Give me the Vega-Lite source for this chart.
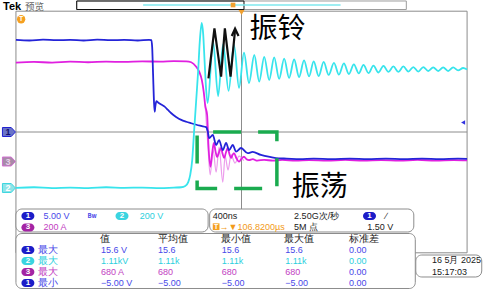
{
"$schema":"https://vega.github.io/schema/vega-lite/v6.json",
"width":487,"height":294,"autosize":{"type":"fit","contains":"padding"},"padding":0,
"background":"white",
"config":{"view":{"stroke":null},"text":{"font":"Noto Sans CJK SC"}},
"datasets":{
"gv":[{"x":-4},{"x":-3},{"x":-2},{"x":-1},{"x":1},{"x":2},{"x":3},{"x":4}],
"gh":[{"y":-3},{"y":-2},{"y":-1},{"y":1},{"y":2},{"y":3}],
"xt":[{"x":-4.8},{"x":-4.6},{"x":-4.4},{"x":-4.2},{"x":-4},{"x":-3.8},{"x":-3.6},{"x":-3.4},{"x":-3.2},{"x":-3},{"x":-2.8},{"x":-2.6},{"x":-2.4},{"x":-2.2},{"x":-2},{"x":-1.8},{"x":-1.6},{"x":-1.4},{"x":-1.2},{"x":-1},{"x":-0.8},{"x":-0.6},{"x":-0.4},{"x":-0.2},{"x":0},{"x":0.2},{"x":0.4},{"x":0.6},{"x":0.8},{"x":1},{"x":1.2},{"x":1.4},{"x":1.6},{"x":1.8},{"x":2},{"x":2.2},{"x":2.4},{"x":2.6},{"x":2.8},{"x":3},{"x":3.2},{"x":3.4},{"x":3.6},{"x":3.8},{"x":4},{"x":4.2},{"x":4.4},{"x":4.6},{"x":4.8}],
"yt":[{"y":-3.8},{"y":-3.6},{"y":-3.4},{"y":-3.2},{"y":-3},{"y":-2.8},{"y":-2.6},{"y":-2.4},{"y":-2.2},{"y":-2},{"y":-1.8},{"y":-1.6},{"y":-1.4},{"y":-1.2},{"y":-1},{"y":-0.8},{"y":-0.6},{"y":-0.4},{"y":-0.2},{"y":0},{"y":0.2},{"y":0.4},{"y":0.6},{"y":0.8},{"y":1},{"y":1.2},{"y":1.4},{"y":1.6},{"y":1.8},{"y":2},{"y":2.2},{"y":2.4},{"y":2.6},{"y":2.8},{"y":3},{"y":3.2},{"y":3.4},{"y":3.6},{"y":3.8}],
"cl":[{"x":0,"x2":0,"y":4,"y2":-4},{"x":-5,"x2":5,"y":0,"y2":0}],
"bd":[{"x":-5,"x2":5,"y":4,"y2":-4}],
"bar":[{"x":-3.653,"x2":3.653,"y":4.338,"y2":4.056}],
"barb":[{"x":-3.653,"x2":0.055,"y":4.338,"y2":4.056}],
"barc":[{"x":-2.181,"x2":2.196,"y":4.205}],
"trg":[{"x":0,"y":3.957}],
"bm":[{"x":-0.188,"y":4.205}],
"ch1":[{"x":-5.0,"y":3.05},{"x":-4.7,"y":3.03},{"x":-4.4,"y":3.06},{"x":-4.1,"y":3.04},{"x":-3.8,"y":3.05},{"x":-3.5,"y":3.03},{"x":-3.2,"y":3.06},{"x":-2.9,"y":3.04},{"x":-2.6,"y":3.05},{"x":-2.3,"y":3.03},{"x":-2.05,"y":3.05},{"x":-1.998,"y":3.04},{"x":-1.98,"y":2.8},{"x":-1.96,"y":1.9},{"x":-1.94,"y":1.0},{"x":-1.925,"y":0.67},{"x":-1.91,"y":0.85},{"x":-1.887,"y":1.02},{"x":-1.85,"y":0.98},{"x":-1.78,"y":0.91},{"x":-1.704,"y":0.84},{"x":-1.63,"y":0.73},{"x":-1.556,"y":0.62},{"x":-1.45,"y":0.5},{"x":-1.336,"y":0.4},{"x":-1.225,"y":0.34},{"x":-1.115,"y":0.29},{"x":-1.0,"y":0.24},{"x":-0.894,"y":0.2},{"x":-0.784,"y":0.16},{"x":-0.75,"y":0.03},{"x":-0.717,"y":-0.2},{"x":-0.636,"y":-0.1},{"x":-0.563,"y":-0.43},{"x":-0.497,"y":-0.27},{"x":-0.415,"y":-0.6},{"x":-0.342,"y":-0.36},{"x":-0.276,"y":-0.6},{"x":-0.194,"y":-0.43},{"x":-0.121,"y":-0.65},{"x":-0.011,"y":-0.53},{"x":0.137,"y":-0.7},{"x":0.247,"y":-0.66},{"x":0.43,"y":-0.76},{"x":0.651,"y":-0.83},{"x":0.828,"y":-0.87},{"x":1.0,"y":-0.88},{"x":1.3,"y":-0.9},{"x":1.6,"y":-0.88},{"x":2.0,"y":-0.9},{"x":2.4,"y":-0.88},{"x":2.8,"y":-0.9},{"x":3.2,"y":-0.88},{"x":3.6,"y":-0.9},{"x":4.0,"y":-0.88},{"x":4.4,"y":-0.9},{"x":4.8,"y":-0.88},{"x":5.0,"y":-0.89}],
"ch3":[{"x":-5.0,"y":2.3},{"x":-4.6,"y":2.32},{"x":-4.2,"y":2.3},{"x":-3.8,"y":2.33},{"x":-3.4,"y":2.31},{"x":-3.0,"y":2.33},{"x":-2.6,"y":2.32},{"x":-2.2,"y":2.34},{"x":-1.8,"y":2.33},{"x":-1.5,"y":2.35},{"x":-1.225,"y":2.34},{"x":-1.115,"y":2.31},{"x":-1.004,"y":2.16},{"x":-0.938,"y":2.0},{"x":-0.879,"y":1.72},{"x":-0.834,"y":1.29},{"x":-0.806,"y":0.89},{"x":-0.762,"y":0.56},{"x":-0.733,"y":-0.43},{"x":-0.689,"y":-1.15},{"x":-0.65,"y":-0.7},{"x":-0.614,"y":-0.36},{"x":-0.575,"y":-0.65},{"x":-0.541,"y":-0.83},{"x":-0.5,"y":-0.68},{"x":-0.453,"y":-0.53},{"x":-0.42,"y":-0.72},{"x":-0.386,"y":-0.86},{"x":-0.345,"y":-0.68},{"x":-0.305,"y":-0.53},{"x":-0.27,"y":-0.72},{"x":-0.232,"y":-0.86},{"x":-0.2,"y":-0.76},{"x":-0.166,"y":-0.7},{"x":-0.11,"y":-0.88},{"x":-0.055,"y":-0.98},{"x":0.0,"y":-0.88},{"x":0.055,"y":-0.82},{"x":0.11,"y":-0.9},{"x":0.166,"y":-0.93},{"x":0.25,"y":-0.9},{"x":0.35,"y":-0.95},{"x":0.5,"y":-0.92},{"x":0.7,"y":-0.95},{"x":0.9,"y":-0.92},{"x":1.2,"y":-0.95},{"x":1.5,"y":-0.93},{"x":1.9,"y":-0.95},{"x":2.3,"y":-0.92},{"x":2.7,"y":-0.95},{"x":3.1,"y":-0.93},{"x":3.5,"y":-0.95},{"x":3.9,"y":-0.92},{"x":4.3,"y":-0.95},{"x":4.7,"y":-0.93},{"x":5.0,"y":-0.94}],
"ch3p":[{"x":-0.806,"y":0.89},{"x":-0.746,"y":-0.43},{"x":-0.695,"y":-1.42},{"x":-0.629,"y":-0.6},{"x":-0.563,"y":-1.33},{"x":-0.497,"y":-0.5},{"x":-0.415,"y":-1.66},{"x":-0.364,"y":-0.8},{"x":-0.298,"y":-1.26},{"x":-0.232,"y":-0.76},{"x":-0.144,"y":-1.03},{"x":-0.055,"y":-0.8},{"x":0.05,"y":-0.95}],
"ch2":[{"x":-5.0,"y":-1.85},{"x":-4.6,"y":-1.83},{"x":-4.2,"y":-1.86},{"x":-3.8,"y":-1.84},{"x":-3.4,"y":-1.86},{"x":-3.0,"y":-1.83},{"x":-2.6,"y":-1.85},{"x":-2.2,"y":-1.84},{"x":-1.8,"y":-1.86},{"x":-1.5,"y":-1.84},{"x":-1.336,"y":-1.83},{"x":-1.247,"y":-1.79},{"x":-1.181,"y":-1.66},{"x":-1.137,"y":-1.42},{"x":-1.093,"y":-0.93},{"x":-1.049,"y":0.07},{"x":-1.004,"y":1.06},{"x":-0.96,"y":2.05},{"x":-0.927,"y":2.95},{"x":-0.883,"y":3.61},{"x":-0.85,"y":3.25},{"x":-0.817,"y":2.3},{"x":-0.784,"y":1.4},{"x":-0.751,"y":0.96},{"x":-0.629,"y":2.98},{"x":-0.519,"y":1.19},{"x":-0.408,"y":2.91},{"x":-0.287,"y":1.36},{"x":-0.166,"y":2.88},{"x":-0.055,"y":1.46},{"x":0.055,"y":2.63},{"x":0.166,"y":1.62},{"x":0.283,"y":2.55},{"x":0.393,"y":1.67},{"x":0.503,"y":2.49},{"x":0.614,"y":1.72},{"x":0.724,"y":2.47},{"x":0.834,"y":1.76},{"x":0.945,"y":2.43},{"x":1.055,"y":1.79},{"x":1.166,"y":2.4},{"x":1.276,"y":1.82},{"x":1.386,"y":2.37},{"x":1.497,"y":1.84},{"x":1.6,"y":2.34},{"x":1.711,"y":1.85},{"x":1.821,"y":2.32},{"x":1.932,"y":1.89},{"x":2.049,"y":2.29},{"x":2.159,"y":1.9},{"x":2.269,"y":2.27},{"x":2.38,"y":1.92},{"x":2.49,"y":2.24},{"x":2.6,"y":1.94},{"x":2.704,"y":2.22},{"x":2.815,"y":1.95},{"x":2.925,"y":2.2},{"x":3.035,"y":1.97},{"x":3.146,"y":2.19},{"x":3.256,"y":1.99},{"x":3.366,"y":2.17},{"x":3.477,"y":1.99},{"x":3.587,"y":2.17},{"x":3.698,"y":2.0},{"x":3.808,"y":2.15},{"x":3.918,"y":2.0},{"x":4.029,"y":2.15},{"x":4.139,"y":2.02},{"x":4.249,"y":2.14},{"x":4.36,"y":2.02},{"x":4.47,"y":2.14},{"x":4.58,"y":2.02},{"x":4.691,"y":2.14},{"x":4.801,"y":2.04},{"x":4.912,"y":2.12},{"x":5.0,"y":2.07}],
"zz":[{"x":-0.733,"y":1.778,"s":"a","o":1},{"x":-0.6,"y":3.434,"s":"a","o":2},{"x":-0.453,"y":1.831,"s":"a","o":3},{"x":-0.369,"y":3.434,"s":"a","o":4},{"x":-0.243,"y":1.831,"s":"a","o":5},{"x":-0.143,"y":3.38,"s":"a","o":6},{"x":-0.216,"y":3.179,"s":"b","o":1},{"x":-0.143,"y":3.42,"s":"b","o":2},{"x":-0.066,"y":3.179,"s":"b","o":3}],
"box":[{"x":-0.984,"x2":0.784,"y":0,"y2":-1.871}],
"lbl":[{"x":0.795,"y":3.361,"t":"振铃"},{"x":1.733,"y":-1.864,"t":"振荡"}],
"mk":[{"x":-5.155,"y":0,"c":"1","t":"1"},{"x":-5.155,"y":-0.977,"c":"3","t":"3"},{"x":-5.155,"y":-1.854,"c":"2","t":"2"}],
"ot1":[{"x":-4.885,"y":3.732}],
"ot2":[{"x":-0.563,"y":-3.136}],
"otT":[{"x":-4.885,"y":3.732},{"x":-0.563,"y":-3.136}],
"arr":[{"x":4.912,"y":0.315}],
"tek":[{"x":-5.287,"y":4.139,"t":"Tek"}],
"pv":[{"x":-4.801,"y":4.139,"t":"预览"}],
"pn":[{"x":-5.0,"x2":-0.74,"y":-2.55,"y2":-3.311},{"x":-0.706,"x2":3.819,"y":-2.55,"y2":-3.311},{"x":-5.0,"x2":3.852,"y":-3.361,"y2":-5.182},{"x":3.863,"x2":5.325,"y":-4.073,"y2":-4.801}],
"ov":[{"x":-4.735,"y":-2.781,"c":"1","t":"1"},{"x":-2.649,"y":-2.781,"c":"2","t":"2"},{"x":-4.735,"y":-3.162,"c":"3","t":"3"},{"x":2.837,"y":-2.781,"c":"1","t":"1"},{"x":-4.735,"y":-3.907,"c":"1","t":"1"},{"x":-4.735,"y":-4.272,"c":"2","t":"2"},{"x":-4.735,"y":-4.636,"c":"3","t":"3"},{"x":-4.735,"y":-5.0,"c":"1","t":"1"}],
"pt":[{"x":-4.389,"y":-2.781,"t":"5.00 V","c":"1"},{"x":-2.256,"y":-2.781,"t":"200 V","c":"2"},{"x":-4.389,"y":-3.162,"t":"200 A","c":"3"},{"x":-0.636,"y":-2.781,"t":"400ns","c":"k"},{"x":-0.486,"y":-3.136,"t":"→▼106.8200µs","c":"o"},{"x":1.166,"y":-2.781,"t":"2.50G次/秒","c":"k"},{"x":1.166,"y":-3.136,"t":"5M 点","c":"k"},{"x":3.19,"y":-2.781,"t":"∕","c":"k"},{"x":2.786,"y":-3.136,"t":"1.50 V","c":"k"},
{"x":-3.117,"y":-3.907,"t":"15.6 V","c":"1"},{"x":-1.85,"y":-3.907,"t":"15.6","c":"1"},{"x":-0.437,"y":-3.907,"t":"15.6","c":"1"},{"x":0.967,"y":-3.907,"t":"15.6","c":"1"},{"x":2.38,"y":-3.907,"t":"0.00","c":"1"},
{"x":-3.117,"y":-4.272,"t":"1.11kV","c":"2"},{"x":-1.85,"y":-4.272,"t":"1.11k","c":"2"},{"x":-0.437,"y":-4.272,"t":"1.11k","c":"2"},{"x":0.967,"y":-4.272,"t":"1.11k","c":"2"},{"x":2.38,"y":-4.272,"t":"0.00","c":"2"},
{"x":-3.117,"y":-4.636,"t":"680 A","c":"3"},{"x":-1.85,"y":-4.636,"t":"680","c":"3"},{"x":-0.437,"y":-4.636,"t":"680","c":"3"},{"x":0.967,"y":-4.636,"t":"680","c":"3"},{"x":2.38,"y":-4.636,"t":"0.00","c":"1"},
{"x":-3.117,"y":-5.0,"t":"−5.00 V","c":"1"},{"x":-1.85,"y":-5.0,"t":"−5.00","c":"1"},{"x":-0.437,"y":-5.0,"t":"−5.00","c":"1"},{"x":0.967,"y":-5.0,"t":"−5.00","c":"1"},{"x":2.38,"y":-5.0,"t":"0.00","c":"1"},
{"x":4.221,"y":-4.238,"t":"16 5月 2025","c":"k"},{"x":4.221,"y":-4.626,"t":"15:17:03","c":"k"}],
"pc":[{"x":-3.146,"y":-3.543,"t":"值","c":"k"},{"x":-1.843,"y":-3.543,"t":"平均值","c":"k"},{"x":-0.453,"y":-3.543,"t":"最小值","c":"k"},{"x":0.938,"y":-3.543,"t":"最大值","c":"k"},{"x":2.373,"y":-3.543,"t":"标准差","c":"k"},
{"x":-4.503,"y":-3.907,"t":"最大","c":"1"},{"x":-4.503,"y":-4.272,"t":"最大","c":"2"},{"x":-4.503,"y":-4.636,"t":"最大","c":"3"},{"x":-4.503,"y":-5.0,"t":"最小","c":"1"}],
"bw":[{"x":-3.311,"y":-2.781,"t":"Bw"}]
},
"encoding":{
"x":{"field":"x","type":"quantitative","scale":{"domain":[-5.3091,5.4415],"nice":false,"zero":false},"axis":null},
"y":{"field":"y","type":"quantitative","scale":{"domain":[-5.3642,4.3709],"nice":false,"zero":false},"axis":null}
},
"layer":[
{"data":{"name":"gv"},"mark":{"type":"rule","color":"#a8a8a8","strokeWidth":1,"strokeDash":[1,5.04]},"encoding":{"y":{"datum":4},"y2":{"datum":-4}}},
{"data":{"name":"gh"},"mark":{"type":"rule","color":"#a8a8a8","strokeWidth":1,"strokeDash":[1,8.06]},"encoding":{"x":{"datum":-5},"x2":{"datum":5}}},
{"data":{"name":"yt"},"mark":{"type":"rule","color":"#8c8c8c"},"encoding":{"x":{"datum":-0.05},"x2":{"datum":0.05}}},
{"data":{"name":"yt"},"mark":{"type":"rule","color":"#8c8c8c"},"encoding":{"x":{"datum":-5},"x2":{"datum":-4.95}}},
{"data":{"name":"yt"},"mark":{"type":"rule","color":"#8c8c8c"},"encoding":{"x":{"datum":4.95},"x2":{"datum":5}}},
{"data":{"name":"xt"},"mark":{"type":"rule","color":"#8c8c8c"},"encoding":{"y":{"datum":-0.07},"y2":{"datum":0.07}}},
{"data":{"name":"xt"},"mark":{"type":"rule","color":"#8c8c8c"},"encoding":{"y":{"datum":4},"y2":{"datum":3.93}}},
{"data":{"name":"xt"},"mark":{"type":"rule","color":"#8c8c8c"},"encoding":{"y":{"datum":-4},"y2":{"datum":-3.93}}},
{"data":{"name":"cl"},"mark":{"type":"rule","color":"#8c8c8c","strokeWidth":1},"encoding":{"x2":{"field":"x2"},"y2":{"field":"y2"}}},
{"data":{"name":"bd"},"mark":{"type":"rect","fill":"transparent","stroke":"#8c8c8c","strokeWidth":1},"encoding":{"x2":{"field":"x2"},"y2":{"field":"y2"}}},
{"data":{"name":"bar"},"mark":{"type":"rect","fill":"white","stroke":"#9c9c9c","strokeWidth":1},"encoding":{"x2":{"field":"x2"},"y2":{"field":"y2"}}},
{"data":{"name":"barb"},"mark":{"type":"rect","fill":"transparent","stroke":"#111111","strokeWidth":1},"encoding":{"x2":{"field":"x2"},"y2":{"field":"y2"}}},
{"data":{"name":"barc"},"mark":{"type":"rule","color":"#7fe8ee","strokeWidth":1.5},"encoding":{"x2":{"field":"x2"}}},
{"data":{"name":"bm"},"mark":{"type":"point","shape":"square","filled":true,"size":22,"color":"#f0a030","opacity":1}},
{"data":{"name":"trg"},"mark":{"type":"point","shape":"triangle-down","filled":true,"size":36,"color":"#f0a030","opacity":1}},
{"data":{"name":"ch3p"},"mark":{"type":"line","color":"#ec9cec","strokeWidth":1.2,"interpolate":"monotone"}},
{"data":{"name":"ch3"},"mark":{"type":"line","color":"#e020e0","strokeWidth":1.8,"interpolate":"monotone"}},
{"data":{"name":"ch1"},"mark":{"type":"line","color":"#2424d8","strokeWidth":1.8,"interpolate":"monotone"}},
{"data":{"name":"ch2"},"mark":{"type":"line","color":"#38e4ec","strokeWidth":1.8,"interpolate":"monotone"}},
{"data":{"name":"zz"},"mark":{"type":"line","color":"#111111","strokeWidth":2.2,"strokeJoin":"miter"},"encoding":{"detail":{"field":"s"},"order":{"field":"o","type":"quantitative"}}},
{"data":{"name":"box"},"mark":{"type":"rect","fill":"transparent","stroke":"#1aab4f","strokeWidth":3.5,"strokeDash":[28,17],"strokeDashOffset":29},"encoding":{"x2":{"field":"x2"},"y2":{"field":"y2"}}},
{"data":{"name":"lbl"},"mark":{"type":"text","fontSize":28,"color":"#000000","align":"center","baseline":"middle","font":"Noto Sans CJK SC"},"encoding":{"text":{"field":"t"}}},
{"data":{"name":"mk"},"mark":{"type":"point","filled":true,"shape":"M-1,-0.69L0.35,-0.69L1,0L0.35,0.69L-1,0.69Z","size":169,"strokeWidth":1,"opacity":1},"encoding":{"fill":{"field":"c","type":"nominal","scale":{"domain":["1","2","3"],"range":["#6a74c8","#8fe4e8","#a88aa8"]},"legend":null},"stroke":{"field":"c","type":"nominal","scale":{"domain":["1","2","3"],"range":["#2020d0","#3cd6e0","#d070d0"]},"legend":null}}},
{"data":{"name":"mk"},"mark":{"type":"text","fontSize":9,"fontWeight":"bold","align":"center","baseline":"middle","dx":-1,"font":"Liberation Sans"},"encoding":{"text":{"field":"t"},"color":{"field":"c","type":"nominal","scale":{"domain":["1","2","3"],"range":["#101070","#ffffff","#e8d0e8"]},"legend":null}}},
{"data":{"name":"ot1"},"mark":{"type":"point","shape":"circle","filled":true,"size":70,"color":"#f5a020","opacity":1}},
{"data":{"name":"arr"},"mark":{"type":"point","shape":"triangle-left","filled":true,"size":22,"color":"#3030e0","opacity":1}},
{"data":{"name":"tek"},"mark":{"type":"text","fontSize":11,"fontWeight":"bold","color":"#000000","align":"left","baseline":"middle","font":"Liberation Sans"},"encoding":{"text":{"field":"t"}}},
{"data":{"name":"pv"},"mark":{"type":"text","fontSize":9.5,"color":"#666666","align":"left","baseline":"middle"},"encoding":{"text":{"field":"t"}}},
{"data":{"name":"pn"},"mark":{"type":"rect","fill":"white","stroke":"#8c8c8c","strokeWidth":1,"cornerRadius":6},"encoding":{"x2":{"field":"x2"},"y2":{"field":"y2"}}},
{"data":{"name":"ov"},"mark":{"type":"point","filled":true,"shape":"M-0.385,-0.615L0.385,-0.615A0.615,0.615 0 0 1 0.385,0.615L-0.385,0.615A0.615,0.615 0 0 1 -0.385,-0.615Z","size":169,"opacity":1},"encoding":{"color":{"field":"c","type":"nominal","scale":{"domain":["1","2","3"],"range":["#1c1cc8","#3ad4e0","#a424a4"]},"legend":null}}},
{"data":{"name":"ov"},"mark":{"type":"text","fontSize":8,"fontWeight":"bold","color":"#ffffff","align":"center","baseline":"middle","font":"Liberation Sans"},"encoding":{"text":{"field":"t"}}},
{"data":{"name":"ot2"},"mark":{"type":"point","shape":"square","filled":true,"size":45,"color":"#f5a020","opacity":1}},
{"data":{"name":"otT"},"mark":{"type":"text","fontSize":7,"fontWeight":"bold","color":"#ffffff","align":"center","baseline":"middle","font":"Liberation Sans"},"encoding":{"text":{"value":"T"}}},
{"data":{"name":"pt"},"mark":{"type":"text","fontSize":9,"align":"left","baseline":"middle","font":"Liberation Sans"},"encoding":{"text":{"field":"t"},"color":{"field":"c","type":"nominal","scale":{"domain":["1","2","3","k","o"],"range":["#4848e8","#2ccfdd","#c23ec2","#1a1a1a","#f29a1a"]},"legend":null}}},
{"data":{"name":"pc"},"mark":{"type":"text","fontSize":9.5,"align":"left","baseline":"middle","font":"Liberation Sans"},"encoding":{"text":{"field":"t"},"color":{"field":"c","type":"nominal","scale":{"domain":["1","2","3","k"],"range":["#4848e8","#2ccfdd","#c23ec2","#1a1a1a"]},"legend":null}}},
{"data":{"name":"bw"},"mark":{"type":"text","fontSize":6,"fontWeight":"bold","color":"#4848e8","align":"center","baseline":"middle"},"encoding":{"text":{"field":"t"}}}
],
"resolve":{"scale":{"color":"independent","fill":"independent","stroke":"independent"}}
}
